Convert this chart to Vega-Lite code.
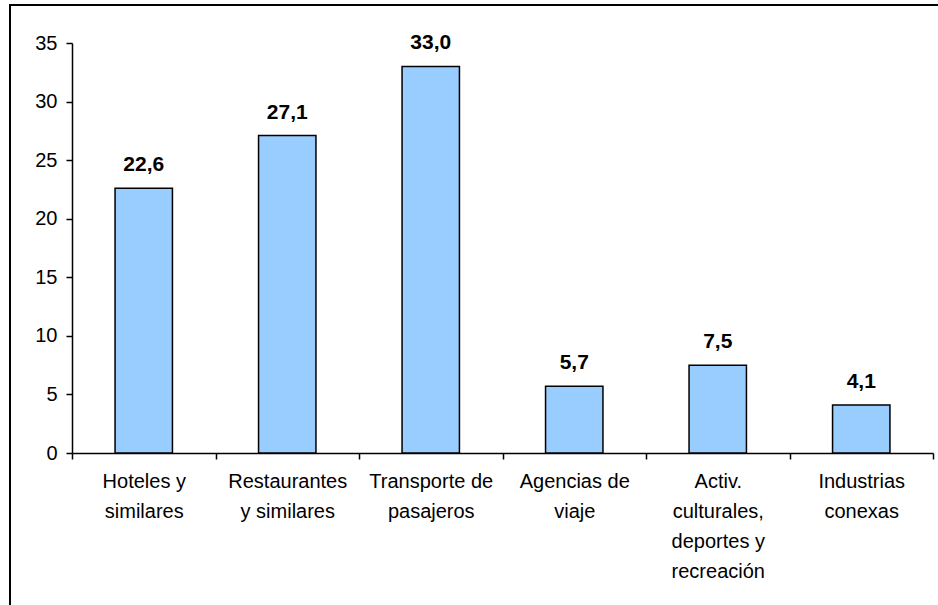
{
  "$schema": "https://vega.github.io/schema/vega-lite/v6.json",
  "width": 930,
  "height": 610,
  "padding": {"left": 10, "top": 5, "right": 0, "bottom": 0},
  "autosize": {"type": "none"},
  "background": "white",
  "config": {
    "view": {"stroke": "black", "strokeWidth": 2},
    "font": "Liberation Sans",
    "locale": {"number": {"decimal": ",", "thousands": ".", "grouping": [3], "currency": ["", " €"]}}
  },
  "data": {
    "values": [
      {"cat": "Hoteles y|similares", "v": 22.6},
      {"cat": "Restaurantes|y similares", "v": 27.1},
      {"cat": "Transporte de|pasajeros", "v": 33.0},
      {"cat": "Agencias de|viaje", "v": 5.7},
      {"cat": "Activ.|culturales,|deportes y|recreación", "v": 7.5},
      {"cat": "Industrias|conexas", "v": 4.1}
    ]
  },
  "encoding": {
    "x": {
      "field": "cat",
      "type": "nominal",
      "sort": null,
      "scale": {"range": [62, 923], "paddingInner": 0, "paddingOuter": 0},
      "axis": {
        "title": null,
        "orient": "bottom",
        "offset": -162,
        "labelAngle": 0,
        "labelExpr": "isValid(datum.value) ? split(datum.value, '|') : ''",
        "labelFontSize": 20,
        "labelLineHeight": 30,
        "labelColor": "black",
        "labelPadding": 12,
        "tickBand": "extent",
        "tickSize": 6,
        "tickColor": "black",
        "tickWidth": 1.5,
        "domainColor": "black",
        "domainWidth": 1.5,
        "grid": false
      }
    },
    "y": {
      "field": "v",
      "type": "quantitative",
      "scale": {"domain": [0, 35], "range": [448, 38], "nice": false},
      "axis": {
        "title": null,
        "offset": -62,
        "values": [0, 5, 10, 15, 20, 25, 30, 35],
        "labelFontSize": 20,
        "labelColor": "black",
        "labelPadding": 9,
        "tickSize": 6,
        "tickColor": "black",
        "tickWidth": 1.5,
        "domainColor": "black",
        "domainWidth": 1.5,
        "grid": false
      }
    }
  },
  "layer": [
    {
      "mark": {"type": "bar", "width": {"band": 0.4}, "fill": "#99CCFF", "stroke": "black", "strokeWidth": 1.5}
    },
    {
      "mark": {"type": "text", "baseline": "alphabetic", "dy": -17, "fontSize": 21, "fontWeight": "bold", "color": "black"},
      "encoding": {"text": {"field": "v", "type": "quantitative", "format": ".1f"}}
    }
  ]
}
